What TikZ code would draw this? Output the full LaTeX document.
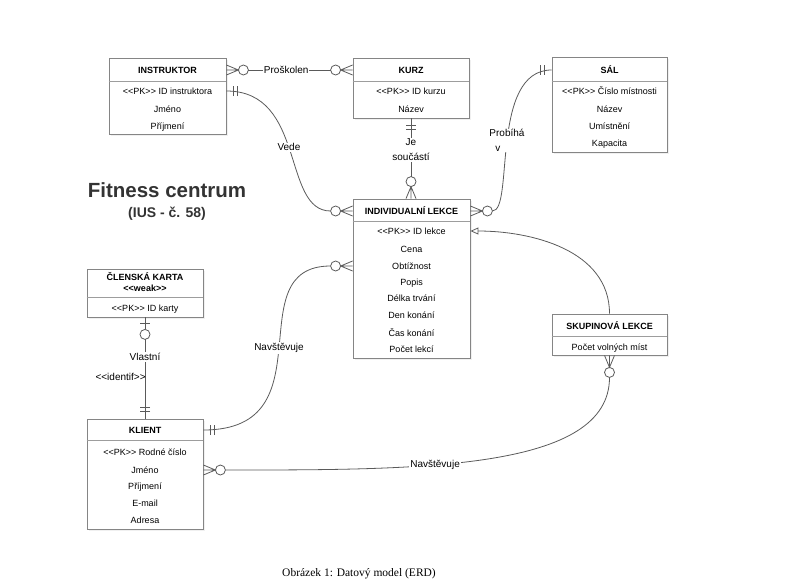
\documentclass[tikz,border=0pt]{standalone}
\usepackage{fontspec}
\setmainfont{Liberation Sans}
\newfontfamily\capfont{Liberation Serif}
\usetikzlibrary{calc,arrows.meta,shadows}
\definecolor{boxline}{HTML}{858585}
\definecolor{conncol}{HTML}{5A5A5A}
\definecolor{titlecol}{HTML}{333333}
\newcommand{\dlt}{<\kern0pt<}
\newcommand{\dgt}{>\kern0pt>}
\newcommand{\zmany}[2]{\begin{scope}[shift={(#1)},rotate=#2]\draw[conn] (0,5)--(12,0)--(0,-5) (0,0)--(12,0); \draw[conn] (17,0) circle[radius=5pt];\end{scope}}
\newcommand{\mone}[2]{\begin{scope}[shift={(#1)},rotate=#2]\draw[conn] (7,5)--(7,-5) (11,5)--(11,-5);\end{scope}}
\newcommand{\zone}[2]{\begin{scope}[shift={(#1)},rotate=#2]\draw[conn] (6,5)--(6,-5) (0,0)--(12,0); \draw[conn] (17,0) circle[radius=5pt];\end{scope}}
\tikzset{
  ent/.style={draw=boxline, line width=0.8pt, fill=white, inner sep=0pt,
    drop shadow={shadow xshift=1.5pt, shadow yshift=-1.5pt, opacity=0.12}},
  sepl/.style={draw=boxline!80, line width=0.7pt},
  row/.style={inner sep=0pt, text height=6.4pt, text depth=0pt, font=\fontsize{9}{10}\selectfont},
  hdr/.style={row, font=\bfseries\fontsize{9}{11}\selectfont},
  conn/.style={draw=conncol, line width=0.8pt},
  lbl/.style={fill=white, inner sep=1pt, font=\fontsize{10}{14.5}\selectfont},
  lbltwo/.style={inner sep=0pt, font=\fontsize{10}{12}\selectfont}
}
\begin{document}
\begin{tikzpicture}[x=1pt,y=-1pt]
\useasboundingbox (0,0) rectangle (786,586);
% ---------- entities ----------
\node[ent, minimum width=117pt, minimum height=76pt] (instr) at (167.5,96) {};
\draw[sepl] ([yshift=-24pt]instr.north west) -- ([yshift=-24pt]instr.north east);
\node[hdr] (instrH) at (167.5,70) {INSTRUKTOR};
\node[row] (instr1) at (167.5,91) {\dlt PK\dgt{} ID instruktora};
\node[row] (instr2) at (167.5,109) {Jméno};
\node[row] (instr3) at (167.5,126) {Příjmení};

\node[ent, minimum width=116pt, minimum height=60pt] (kurz) at (411,88) {};
\draw[sepl] ([yshift=-24pt]kurz.north west) -- ([yshift=-24pt]kurz.north east);
\node[hdr] (kurzH) at (411,70) {KURZ};
\node[row] (kurz1) at (411,91) {\dlt PK\dgt{} ID kurzu};
\node[row] (kurz2) at (411,109) {Název};

\node[ent, minimum width=115pt, minimum height=95pt] (sal) at (609.5,104.5) {};
\draw[sepl] ([yshift=-25pt]sal.north west) -- ([yshift=-25pt]sal.north east);
\node[hdr] (salH) at (609.5,70) {SÁL};
\node[row] (sal1) at (609.5,91) {\dlt PK\dgt{} Číslo místnosti};
\node[row] (sal2) at (609.5,109) {Název};
\node[row] (sal3) at (609.5,126) {Umístnění};
\node[row] (sal4) at (609.5,143) {Kapacita};

\node[ent, minimum width=117pt, minimum height=159pt] (il) at (411.5,278.5) {};
\draw[sepl] ([yshift=-23pt]il.north west) -- ([yshift=-23pt]il.north east);
\node[hdr] (ilH) at (411.5,211) {INDIVIDUALNÍ LEKCE};
\node[row] (il1) at (411.5,231) {\dlt PK\dgt{} ID lekce};
\node[row] (il2) at (411.5,249) {Cena};
\node[row] (il3) at (411.5,266) {Obtížnost};
\node[row] (il4) at (411.5,282) {Popis};
\node[row] (il5) at (411.5,298) {Délka trvání};
\node[row] (il6) at (411.5,315) {Den konání};
\node[row] (il7) at (411.5,333) {Čas konání};
\node[row] (il8) at (411.5,349) {Počet lekcí};

\node[ent, minimum width=116pt, minimum height=48pt] (ck) at (145,293) {};
\draw[sepl] ([yshift=-29pt]ck.north west) -- ([yshift=-29pt]ck.north east);
\node[hdr] (ckH) at (145,277) {ČLENSKÁ KARTA};
\node[hdr] (ckW) at (145,288.5) {\dlt weak\dgt};
\node[row] (ck1) at (145,308) {\dlt PK\dgt{} ID karty};

\node[ent, minimum width=116pt, minimum height=110pt] (klient) at (145,474) {};
\draw[sepl] ([yshift=-22pt]klient.north west) -- ([yshift=-22pt]klient.north east);
\node[hdr] (klientH) at (145,430) {KLIENT};
\node[row] (klient1) at (145,452) {\dlt PK\dgt{} Rodné číslo};
\node[row] (klient2) at (145,470) {Jméno};
\node[row] (klient3) at (145,486) {Příjmení};
\node[row] (klient4) at (145,503) {E-mail};
\node[row] (klient5) at (145,520) {Adresa};

\node[ent, minimum width=115pt, minimum height=41pt] (skup) at (609.5,334.5) {};
\draw[sepl] ([yshift=-23pt]skup.north west) -- ([yshift=-23pt]skup.north east);
\node[hdr] (skupH) at (609.5,326) {SKUPINOVÁ LEKCE};
\node[row] (skup1) at (609.5,347) {Počet volných míst};

% ---------- title & caption ----------
\node[font=\bfseries\fontsize{20.5}{24}\selectfont, text=titlecol] (title) at (167,190) {Fitness centrum};
\node[font=\bfseries\fontsize{14}{16}\selectfont, text=titlecol] (sub) at (167,214) {(IUS - č. 58)};
\node[font=\capfont\fontsize{11.5}{13}\selectfont] (cap) at (359,574) {Obrázek 1: Datový model (ERD)};

% ---------- connectors ----------
% Proskolen
\coordinate (pA) at (instr.east |- instrH);
\coordinate (pB) at (kurz.west |- kurzH);
\zmany{pA}{0} \zmany{pB}{180}
\draw[conn] ($(pA)+(22,0)$) -- node[lbl,pos=.46]{Proškolen} ($(pB)+(-22,0)$);

% Vede
\coordinate (vA) at (instr.east |- instr1);
\coordinate (vB) at (il.west |- ilH);
\mone{vA}{0} \zmany{vB}{180}
\draw[conn] (vA) .. controls +(80,0) and +(-49,0) .. ($(vB)+(-22,0)$) node[lbl,pos=.48]{Vede};

% Je soucasti
\coordinate (jA) at (kurz.south);
\coordinate (jB) at (kurz.south |- il.north);
\mone{jA}{270} \zmany{jB}{90}
\draw[conn] (jA) -- node[lbl,pos=.54,align=center]{Je\\součástí} ($(jB)+(0,-22)$);

% Probiha v
\coordinate (prA) at (sal.west |- salH);
\coordinate (prB) at (il.east |- ilH);
\mone{prA}{180} \zmany{prB}{0}
\draw[conn] (prA) .. controls +(-62,0) and +(22,0) .. ($(prB)+(22,0)$) node[lbl,pos=.5,align=left]{Probíhá\\\hspace*{6pt}v};

% Navstevuje (individualni)
\coordinate (nA) at (klient.east |- klientH);
\coordinate (nB) at (il.west |- il3);
\mone{nA}{0} \zmany{nB}{180}
\draw[conn] (nA) .. controls +(127,0) and +(-95,0) .. ($(nB)+(-22,0)$) node[lbl,pos=.5]{Navštěvuje};

% Vlastni
\coordinate (vlA) at (ck.south);
\coordinate (vlB) at (ck.south |- klient.north);
\zone{vlA}{270} \mone{vlB}{90}
\draw[conn] ($(vlA)+(0,22)$) -- node[lbl,pos=.225]{Vlastní} node[lbltwo,pos=.475,anchor=east,xshift=1pt]{\dlt identif\dgt} (vlB);

% Navstevuje (skupinova)
\coordinate (lA) at (klient.east |- klient2);
\coordinate (lB) at (skup.south);
\zmany{lA}{0} \zmany{lB}{270}
\draw[conn] ($(lA)+(22,0)$) .. controls +(195,0) and +(0,93) .. ($(lB)+(0,22)$) node[lbl,pos=.38]{Navštěvuje};

% Generalization
\coordinate (gA) at (skup.north);
\coordinate (gB) at (il.east |- il1);
\draw[conn,-{Triangle[open,length=8pt,width=7pt]}] (gA) .. controls +(0,-64) and +(60,0) .. (gB);
\end{tikzpicture}
\end{document}
